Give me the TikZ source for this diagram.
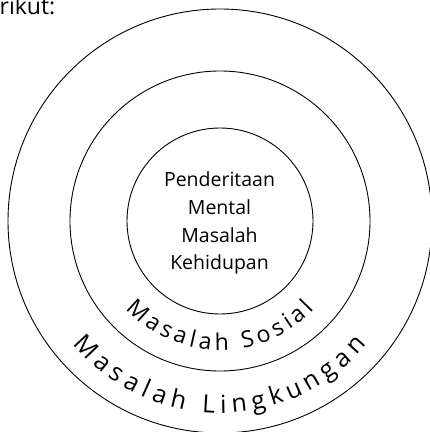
\documentclass[tikz,border=0pt]{standalone}
\usepackage{fontspec}
\setmainfont{Open Sans}
\usetikzlibrary{decorations.text}
\newcommand\innerarcfont{\fontsize{23}{23}\selectfont}
\newcommand\outerarcfont{\fontsize{25}{25}\selectfont}
\begin{document}
\begin{tikzpicture}[x=1pt,y=1pt,
  ring/.style={circle, draw=black, line width=0.9pt, inner sep=0pt, outer sep=0pt},
  core/.style={anchor=base, inner sep=0pt, font=\fontsize{19.5}{24}\selectfont, text=black},
  arctext/.style 2 args={font=#1, decorate, decoration={text along path, text={|#1|#2}, text align={fit to path}, text color=black}}]
\useasboundingbox (0,0) rectangle (430,432);
\clip (0,0) rectangle (430,432);
\coordinate (c) at (220,211);
\node[ring, minimum size=424pt] (outer) at (c) {};
\node[ring, minimum size=300pt] (middle) at (c) {};
\node[ring, minimum size=186pt] (inner) at (c) {};
\node[core] (l1) at (219.5,245.3) {Penderitaan};
\node[core] (l2) at (219.5,217.0) {Mental};
\node[core] (l3) at (219.5,189.3) {Masalah};
\node[core] (l4) at (219.5,162.0) {Kehidupan};
\path[arctext={\innerarcfont}{Masalah Sosial}] ([shift={(223:129)}]c) arc[start angle=223, end angle=317, radius=129];
\path[arctext={\outerarcfont}{Masalah Lingkungan}] ([shift={(220:192)}]c) arc[start angle=220, end angle=320, radius=192];
\node[anchor=base west, inner sep=0pt, font=\fontsize{23}{24}\selectfont, text=black] (top) at (-0.5,417) {rikut:};
\end{tikzpicture}
\end{document}
